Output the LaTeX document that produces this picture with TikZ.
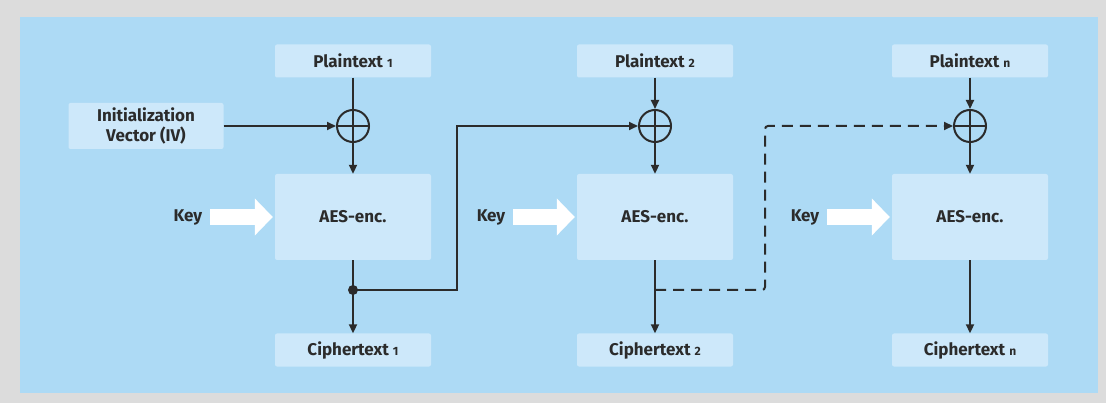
\documentclass[tikz,border=0pt]{standalone}
\usepackage{fontspec}
\setmainfont{Fira Sans}
\usepackage{tikz}
\usetikzlibrary{arrows.meta,positioning,calc}
\definecolor{panelblue}{HTML}{ADDAF5}
\definecolor{boxblue}{HTML}{CDE8FA}
\definecolor{framegrey}{HTML}{DCDCDC}
\definecolor{inkgrey}{HTML}{2B2B2B}
\newcommand{\idx}[1]{\ {\fontsize{12}{12}\selectfont #1}}
\tikzset{
  box/.style      = {fill=boxblue, rounded corners=2pt, minimum width=156pt, inner sep=0pt,
                     align=center, font=\fontsize{17}{20}\selectfont\bfseries, text=inkgrey},
  txtbox/.style   = {box, minimum height=33pt},
  encbox/.style   = {box, minimum height=86pt},
  xor/.style      = {draw=inkgrey, line width=2pt, circle, minimum size=32pt, inner sep=0pt,
                     path picture={\draw[inkgrey, line width=2pt]
                       (path picture bounding box.north) -- (path picture bounding box.south)
                       (path picture bounding box.west) -- (path picture bounding box.east);}},
  sig/.style      = {-{Triangle[length=9pt,width=8pt]}, line width=2pt, draw=inkgrey},
  wire/.style     = {line width=2pt, draw=inkgrey},
  keyarrow/.style = {draw=white, line width=16pt, -{Triangle[length=18pt,width=36pt]},
                     shorten <=7pt, shorten >=2pt},
  lbl/.style      = {font=\fontsize{17}{20}\selectfont\bfseries, text=inkgrey, inner sep=1pt},
}

\begin{document}
\begin{tikzpicture}[x=1pt,y=-1pt]
  % frame and panel
  \useasboundingbox (0,0) rectangle (1106,403);
  \fill[framegrey] (0,0) rectangle (1106,403);
  \fill[panelblue] (20,17) rectangle (1098,393);
  % column 1
  \node[txtbox] (plain1) at (353,61) {Plaintext\idx{1}};
  \node[xor] (xor1) at (353,126) {};
  \node[encbox] (aes1) at (353,217) {AES-enc.};
  \node[txtbox] (ciph1) at (353,350) {Ciphertext\idx{1}};
  \node[box, minimum width=155pt, minimum height=46pt] (iv) at (146,126) {Initialization\\Vector (IV)};
  \node[lbl] (key1) at (188,217) {Key};
  \draw[wire] (plain1) -- (xor1);
  \draw[sig] (iv) -- (xor1);
  \draw[sig] (xor1) -- (aes1);
  \draw[sig] (aes1) -- (ciph1);
  \draw[keyarrow] (key1) -- (aes1);
  \coordinate (tap1) at (353,290);
  \coordinate (bend1) at (457,290);
  \fill[inkgrey] (tap1) circle (5pt);
  % column 2
  \node[txtbox] (plain2) at (655,61) {Plaintext\idx{2}};
  \node[xor] (xor2) at (655,126) {};
  \node[encbox] (aes2) at (655,217) {AES-enc.};
  \node[txtbox] (ciph2) at (655,350) {Ciphertext\idx{2}};
  \node[lbl] (key2) at (491,217) {Key};
  \draw[sig] (plain2) -- (xor2);
  \draw[sig] (xor2) -- (aes2);
  \draw[sig] (aes2) -- (ciph2);
  \draw[keyarrow] (key2) -- (aes2);
  \draw[sig] (tap1) -- (bend1) |- (xor2);
  \coordinate (tap2) at (655,290);
  \coordinate (bend2) at (765,290);
  % column n
  \node[txtbox] (plainn) at (970,61) {Plaintext\idx{n}};
  \node[xor] (xorn) at (970,126) {};
  \node[encbox] (aesn) at (970,217) {AES-enc.};
  \node[txtbox] (ciphn) at (970,350) {Ciphertext\idx{n}};
  \node[lbl] (keyn) at (805,217) {Key};
  \draw[sig] (plainn) -- (xorn);
  \draw[sig] (xorn) -- (aesn);
  \draw[sig] (aesn) -- (ciphn);
  \draw[keyarrow] (keyn) -- (aesn);
  \draw[sig, dash pattern=on 11pt off 7pt, rounded corners=3pt] (tap2) -- (bend2) |- (xorn);
\end{tikzpicture}
\end{document}
